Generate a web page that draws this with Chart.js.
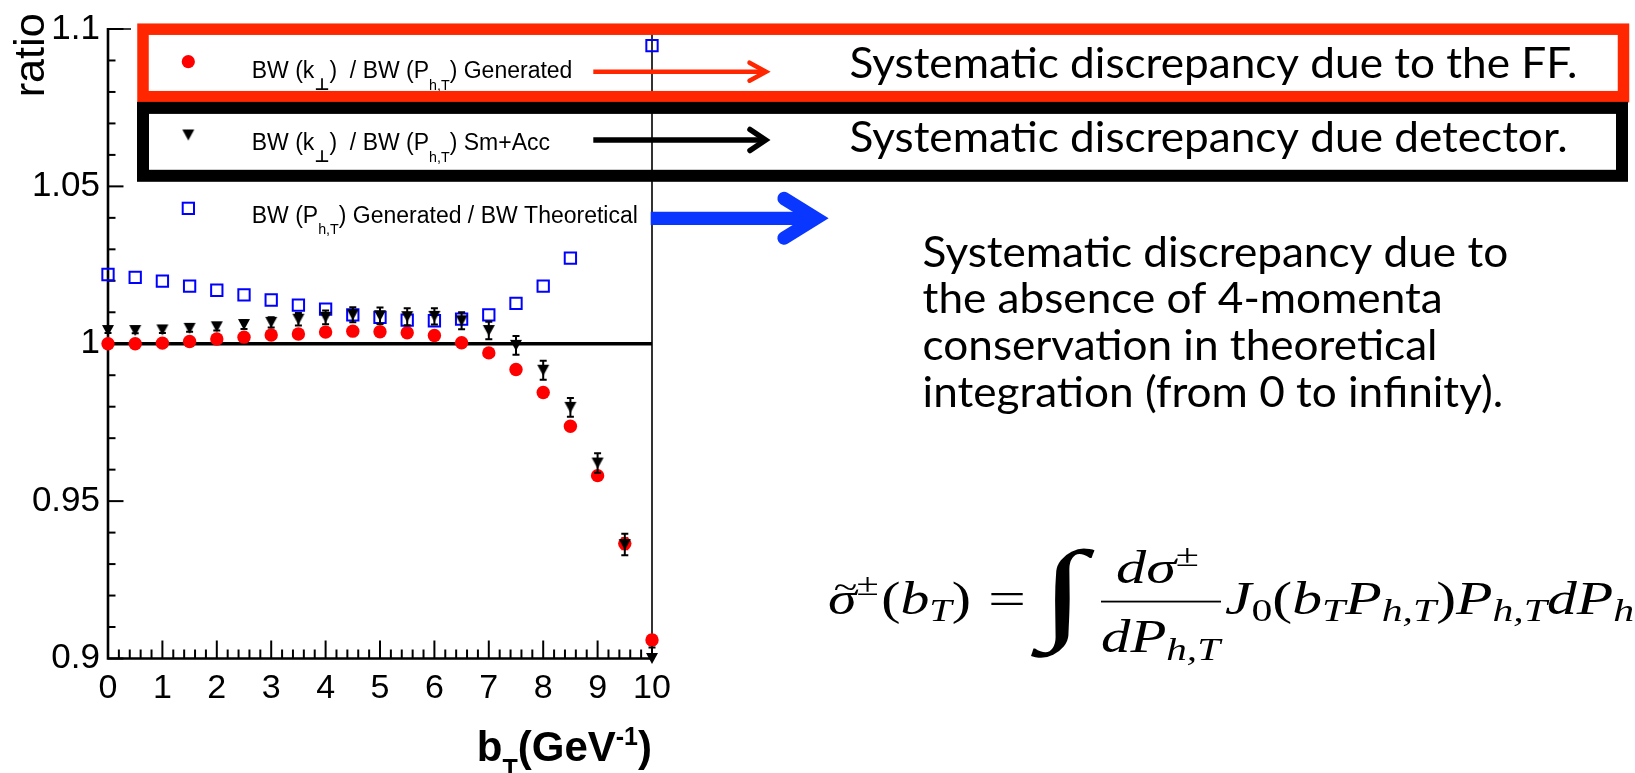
<!DOCTYPE html>
<html lang="en">
<head>
<meta charset="utf-8">
<title>BW ratio vs b_T</title>
<script src="https://cdn.jsdelivr.net/npm/chart.js@4.4.1/dist/chart.umd.min.js"></script>
<style>
  html, body { margin: 0; padding: 0; background: #ffffff; }
  canvas { display: block; }
</style>
</head>
<body>
<canvas id="ratioChart" width="1635" height="773"></canvas>
<script>
// ---------- data ----------
const bT = [0, 0.5, 1, 1.5, 2, 2.5, 3, 3.5, 4, 4.5, 5, 5.5, 6, 6.5, 7, 7.5, 8, 8.5, 9, 9.5, 10];

// BW(k_perp) / BW(P_h,T), generated level
const ratioGenerated    = [1.0000, 1.0000, 1.0002, 1.0007, 1.0015, 1.0021, 1.0028, 1.0031, 1.0037, 1.0040, 1.0038, 1.0035, 1.0026, 1.0003, 0.9971, 0.9918, 0.9845, 0.9738, 0.9581, 0.9365, 0.9059];
const ratioGeneratedErr = [0.0002, 0.0002, 0.0003, 0.0003, 0.0004, 0.0004, 0.0005, 0.0005, 0.0006, 0.0006, 0.0007, 0.0007, 0.0008, 0.0008, 0.0009, 0.0010, 0.0011, 0.0012, 0.0014, 0.0018, 0.0016];

// BW(k_perp) / BW(P_h,T), smeared + acceptance
const ratioSmAcc    = [1.0042, 1.0042, 1.0044, 1.0049, 1.0054, 1.0061, 1.0068, 1.0078, 1.0084, 1.0092, 1.0089, 1.0086, 1.0087, 1.0073, 1.0042, 0.9995, 0.9916, 0.9798, 0.9621, 0.9362, 0.9000];
const ratioSmAccErr = [0.0008, 0.0009, 0.0010, 0.0011, 0.0012, 0.0014, 0.0016, 0.0020, 0.0022, 0.0024, 0.0026, 0.0027, 0.0026, 0.0027, 0.0028, 0.0030, 0.0030, 0.0030, 0.0031, 0.0034, 0.0035];

// BW(P_h,T) generated / BW theoretical (bins 9 and 9.5 lie under the legend)
const ratioTheory = [1.0220, 1.0211, 1.0199, 1.0183, 1.0170, 1.0155, 1.0139, 1.0123, 1.0110, 1.0092, 1.0084, 1.0075, 1.0073, 1.0078, 1.0092, 1.0128, 1.0183, 1.0272, null, null, 1.0947];

// reference line at ratio = 1
const unityX = [0, 10];
const unityY = [1, 1];

// axes
const xTickValues = [0, 1, 2, 3, 4, 5, 6, 7, 8, 9, 10];
const xTickLabels = ['0', '1', '2', '3', '4', '5', '6', '7', '8', '9', '10'];
const yTickValues = [0.9, 0.95, 1, 1.05, 1.1];
const yTickLabels = ['0.9', '0.95', '1', '1.05', '1.1'];
const xMinorStep = 0.2;
const yMinorStep = 0.01;

// ---------- styling helpers ----------
const FONT_SANS = '"Liberation Sans", Arial, Helvetica, sans-serif';
const FONT_NOTE = 'Lato, "Open Sans", sans-serif';
const FONT_MATH = '"Liberation Serif", "DejaVu Serif", serif';
const RED_BOX = '#ff2600';

function downTriangle(w, h, color) {
  const c = document.createElement('canvas');
  c.width = w + 2; c.height = h + 2;
  const g = c.getContext('2d');
  g.fillStyle = color;
  g.beginPath();
  g.moveTo(1, 1); g.lineTo(w + 1, 1); g.lineTo(1 + w / 2, h + 1);
  g.closePath(); g.fill();
  return c;
}
const triMarker = downTriangle(12, 11, '#000000');

function points(xs, ys) { return xs.map((x, i) => ({ x, y: ys[i] })); }

// ---------- plugins ----------
const whiteBackground = {
  id: 'whiteBackground',
  beforeDraw(chart) {
    const { ctx, width, height } = chart;
    ctx.save(); ctx.fillStyle = '#ffffff'; ctx.fillRect(0, 0, width, height); ctx.restore();
  }
};

// ROOT-style frame with inward ticks
const rootFrame = {
  id: 'rootFrame',
  beforeDatasetsDraw(chart) {
    const { ctx, chartArea: a, scales: { x, y } } = chart;
    ctx.save();
    ctx.strokeStyle = '#000';
    ctx.lineWidth = 2;
    const nx = Math.round((x.max - x.min) / xMinorStep);
    for (let k = 0; k <= nx; k++) {
      const v = x.min + k * xMinorStep;
      const major = xTickValues.some(t => Math.abs(t - v) < 1e-9);
      const px = x.getPixelForValue(v);
      ctx.beginPath(); ctx.moveTo(px, a.bottom); ctx.lineTo(px, a.bottom - (major ? 18 : 9)); ctx.stroke();
    }
    const ny = Math.round((y.max - y.min) / yMinorStep);
    for (let k = 0; k <= ny; k++) {
      const v = y.min + k * yMinorStep;
      const major = yTickValues.some(t => Math.abs(t - v) < 1e-9);
      const py = y.getPixelForValue(v);
      ctx.beginPath(); ctx.moveTo(a.left, py); ctx.lineTo(a.left + (major ? 15.5 : 7.5), py); ctx.stroke();
    }
    ctx.lineWidth = 1.6;
    ctx.beginPath(); ctx.moveTo(a.left, a.top); ctx.lineTo(a.right, a.top); ctx.lineTo(a.right, a.bottom); ctx.stroke();
    ctx.lineWidth = 2.6;
    ctx.beginPath(); ctx.moveTo(a.left, a.top - 1); ctx.lineTo(a.left, a.bottom); ctx.lineTo(a.right, a.bottom); ctx.stroke();
    ctx.restore();
  }
};

// vertical error bars with small caps, drawn just before each dataset's markers
const errorBars = {
  id: 'errorBars',
  beforeDatasetDraw(chart, args) {
    const ds = chart.data.datasets[args.index];
    if (!ds.errors) return;
    const { ctx, chartArea: a, scales: { x, y } } = chart;
    ctx.save();
    ctx.beginPath(); ctx.rect(a.left - 10, a.top, a.right - a.left + 20, a.bottom - a.top); ctx.clip();
    ctx.strokeStyle = ds.errorColor; ctx.lineWidth = 2;
    ds.data.forEach((p, i) => {
      const e = ds.errors[i];
      if (p.y == null || !e) return;
      const px = x.getPixelForValue(p.x);
      const y1 = y.getPixelForValue(p.y + e), y2 = y.getPixelForValue(p.y - e);
      ctx.beginPath();
      ctx.moveTo(px, y1); ctx.lineTo(px, y2);
      ctx.moveTo(px - 3.5, y1); ctx.lineTo(px + 3.5, y1);
      ctx.moveTo(px - 3.5, y2); ctx.lineTo(px + 3.5, y2);
      ctx.stroke();
    });
    ctx.restore();
  }
};

function richText(ctx, x, base, parts, size) {
  for (const p of parts) {
    const s = p.sub ? size * 0.62 : size;
    ctx.font = p.perp ? 'bold ' + (size * 0.72) + 'px "DejaVu Sans", sans-serif' : s + 'px ' + FONT_SANS;
    ctx.fillText(p.t, x, base + (p.sub ? size * 0.5 : 0));
    x += ctx.measureText(p.t).width;
  }
  return x;
}

const rootLegend = {
  id: 'rootLegend',
  afterDatasetsDraw(chart) {
    const { ctx } = chart;
    ctx.save();
    ctx.fillStyle = '#ffffff';
    ctx.fillRect(131, 23, 513, 213);
    // markers
    ctx.fillStyle = '#ff0000';
    ctx.beginPath(); ctx.arc(188.3, 61.7, 6.6, 0, Math.PI * 2); ctx.fill();
    ctx.drawImage(triMarker, 188.3 - 7, 135 - 6.5);
    ctx.strokeStyle = '#0000ff'; ctx.lineWidth = 2;
    ctx.strokeRect(182.7, 202.7, 11.3, 11.3);
    // labels
    ctx.fillStyle = '#000'; ctx.textAlign = 'left'; ctx.textBaseline = 'alphabetic';
    const fs = 23;
    richText(ctx, 251.7, 78.3, [{ t: 'BW (k' }, { t: '\u22A5', sub: true, perp: true }, { t: ')  / BW (P' }, { t: 'h,T', sub: true }, { t: ') Generated' }], fs);
    richText(ctx, 251.7, 150, [{ t: 'BW (k' }, { t: '\u22A5', sub: true, perp: true }, { t: ')  / BW (P' }, { t: 'h,T', sub: true }, { t: ') Sm+Acc' }], fs);
    richText(ctx, 251.7, 222.7, [{ t: 'BW (P' }, { t: 'h,T', sub: true }, { t: ') Generated / BW Theoretical' }], fs);
    ctx.restore();
  }
};

function arrow(ctx, x1, xv, y, color, w, armX, armY) {
  ctx.strokeStyle = color; ctx.lineWidth = w;
  ctx.lineCap = 'butt';
  ctx.beginPath(); ctx.moveTo(x1, y); ctx.lineTo(xv, y); ctx.stroke();
  ctx.lineCap = 'round'; ctx.lineJoin = 'miter'; ctx.miterLimit = 10;
  ctx.beginPath(); ctx.moveTo(armX, y - armY); ctx.lineTo(xv, y); ctx.lineTo(armX, y + armY); ctx.stroke();
}

// Fourier-Bessel transform of the cross section, set in italic serif.
// Each piece is a run list laid out left to right and stretched to its slot.
function drawFormula(ctx) {
  const F = 46, B = 614;
  const it = s => 'italic ' + s + 'px ' + FONT_MATH;
  const rm = s => s + 'px ' + FONT_MATH;
  const SUB = F * 0.16, SUP = -F * 0.42;

  const measure = runs => {
    let w = 0;
    for (const r of runs) { ctx.font = r.f; r.w = ctx.measureText(r.t).width; r.at = w; w += r.w + (r.gap || 0); }
    return w;
  };
  const draw = (runs, x0, base, sx) => {
    ctx.save(); ctx.translate(x0, 0); ctx.scale(sx, 1);
    for (const r of runs) { ctx.font = r.f; ctx.fillText(r.t, r.at, base + (r.dy || 0)); }
    ctx.restore();
  };
  const fit = (runs, x0, width, base) => { const w = measure(runs); draw(runs, x0, base, width / w); return width / w; };

  ctx.save();
  ctx.fillStyle = '#000'; ctx.textAlign = 'left'; ctx.textBaseline = 'alphabetic';

  // sigma-tilde^pm (b_T)
  const lhs = [
    { t: '\u03C3', f: it(F) }, { t: '\u00B1', f: rm(F * 0.7), dy: SUP, gap: 2 },
    { t: '(', f: rm(F) }, { t: 'b', f: it(F) }, { t: 'T', f: it(F * 0.7), dy: SUB }, { t: ')', f: rm(F) }
  ];
  const sxl = fit(lhs, 828, 143, B);
  ctx.save(); ctx.translate(828, 0); ctx.scale(sxl, 1);
  ctx.font = rm(F * 0.75); ctx.fillText('~', lhs[0].w * 0.2, B - F * 0.34);
  ctx.restore();

  fit([{ t: '=', f: rm(F) }], 988, 38, B);
  fit([{ t: '\u222B', f: rm(F * 2.42) }], 1040, 46, B + F * 0.3);

  // fraction  d sigma^pm / d P_{h,T}
  ctx.fillRect(1101, B - F * 0.27 - 0.9, 120, 1.8);
  fit([{ t: 'd\u03C3', f: it(F) }, { t: '\u00B1', f: rm(F * 0.7), dy: -F * 0.37 }], 1116, 83, B - F * 0.68);
  fit([{ t: 'dP', f: it(F) }, { t: 'h,T', f: it(F * 0.7), dy: F * 0.18 }], 1101, 119, B + F * 0.82);

  // J_0(b_T P_{h,T}) P_{h,T} dP_{h,T}
  const rhs = [
    { t: 'J', f: it(F) }, { t: '0', f: rm(F * 0.7), dy: SUB },
    { t: '(', f: rm(F) }, { t: 'b', f: it(F) }, { t: 'T', f: it(F * 0.7), dy: SUB },
    { t: 'P', f: it(F) }, { t: 'h,T', f: it(F * 0.7), dy: SUB }, { t: ')', f: rm(F) },
    { t: 'P', f: it(F) }, { t: 'h,T', f: it(F * 0.7), dy: SUB },
    { t: 'd', f: it(F) }, { t: 'P', f: it(F) }, { t: 'h,T', f: it(F * 0.7), dy: SUB }
  ];
  measure(rhs);
  const sxr = (1547 - 1225) / rhs[10].at;
  draw(rhs, 1225, B, sxr);
  ctx.restore();
}

const slideNotes = {
  id: 'slideNotes',
  afterDraw(chart) {
    const { ctx, chartArea: a } = chart;
    ctx.save();
    // highlight boxes around the first two legend rows
    ctx.lineJoin = 'miter';
    ctx.strokeStyle = RED_BOX; ctx.lineWidth = 11.5;
    ctx.strokeRect(143, 29.2, 1623.5 - 143, 96.7 - 29.2);
    ctx.strokeStyle = '#000'; ctx.lineWidth = 12;
    ctx.strokeRect(143, 107.9, 1622 - 143, 175.8 - 107.9);

    arrow(ctx, 593.3, 766, 71.7, RED_BOX, 4.5, 749.5, 9);
    arrow(ctx, 593.3, 765.6, 140, '#000', 5.5, 750, 10.5);
    arrow(ctx, 650.7, 816, 218.3, '#0a37ff', 13.3, 784, 19.8);

    // notes
    ctx.fillStyle = '#000'; ctx.textAlign = 'left'; ctx.textBaseline = 'alphabetic';
    ctx.font = '42px ' + FONT_NOTE;
    const row1 = 'Systematic discrepancy due to the FF.';
    const sx = 728 / ctx.measureText(row1).width;
    const note = (t, x, y) => { ctx.save(); ctx.translate(x, y); ctx.scale(sx, 1); ctx.fillText(t, 0, 0); ctx.restore(); };
    note(row1, 849.4, 78.3);
    note('Systematic discrepancy due detector.', 849.4, 151.7);
    const para = ['Systematic discrepancy due to', 'the absence of 4-momenta', 'conservation in theoretical', 'integration (from 0 to infinity).'];
    para.forEach((t, i) => note(t, 922.6, 266.5 + i * 46.7));

    drawFormula(ctx);

    // axis titles
    ctx.fillStyle = '#000';
    ctx.save();
    ctx.translate(44, 13.3); ctx.rotate(-Math.PI / 2);
    ctx.font = '42px ' + FONT_SANS; ctx.textAlign = 'right';
    const wr = ctx.measureText('ratio').width;
    ctx.scale(84 / wr, 1);
    ctx.fillText('ratio', 0, 0);
    ctx.restore();

    const tParts = [{ t: 'b', s: 42, dy: 0 }, { t: 'T', s: 25, dy: 16 }, { t: '(GeV', s: 42, dy: 0 }, { t: '-1', s: 25, dy: -16 }, { t: ')', s: 42, dy: 0 }];
    let tw = 0;
    tParts.forEach(p => { ctx.font = 'bold ' + p.s + 'px ' + FONT_SANS; p.w = ctx.measureText(p.t).width; tw += p.w; });
    let tx = a.right - tw;
    tParts.forEach(p => { ctx.font = 'bold ' + p.s + 'px ' + FONT_SANS; ctx.fillText(p.t, tx, 761 + p.dy); tx += p.w; });
    ctx.restore();
  }
};

// ---------- chart ----------
new Chart(document.getElementById('ratioChart'), {
  type: 'scatter',
  data: {
    datasets: [
      { type: 'line', label: 'ratio = 1', data: points(unityX, unityY), borderColor: '#000', borderWidth: 3.5,
        pointRadius: 0, order: 4, clip: false },
      { label: 'BW (k\u22A5) / BW (Ph,T) Generated', data: points(bT, ratioGenerated), errors: ratioGeneratedErr,
        errorColor: '#ff0000', pointStyle: 'circle', pointRadius: 6.7, backgroundColor: '#ff0000',
        borderWidth: 0, order: 3, clip: false },
      { label: 'BW (Ph,T) Generated / BW Theoretical', data: points(bT, ratioTheory), pointStyle: 'rect',
        pointRadius: 8, borderColor: '#0000ff', backgroundColor: 'rgba(0,0,0,0)', borderWidth: 2,
        order: 2, clip: false },
      { label: 'BW (k\u22A5) / BW (Ph,T) Sm+Acc', data: points(bT, ratioSmAcc), errors: ratioSmAccErr,
        errorColor: '#000', pointStyle: triMarker, order: 1, clip: false }
    ]
  },
  options: {
    responsive: false,
    devicePixelRatio: 1,
    animation: false,
    events: [],
    layout: { padding: { left: 0, top: 21.5, right: 983, bottom: 0 } },
    plugins: { legend: { display: false }, tooltip: { enabled: false } },
    scales: {
      x: {
        type: 'linear', min: 0, max: 10,
        afterBuildTicks: s => { s.ticks = xTickValues.map(v => ({ value: v })); },
        afterFit: s => { s.height = 114.5; },
        grid: { display: false, drawTicks: false },
        border: { display: false },
        ticks: { autoSkip: false, maxRotation: 0, padding: 10, color: '#000',
                 font: { family: FONT_SANS, size: 34 },
                 callback: (v, i) => xTickLabels[i] }
      },
      y: {
        type: 'linear', min: 0.9, max: 1.1,
        afterBuildTicks: s => { s.ticks = yTickValues.map(v => ({ value: v })); },
        afterFit: s => { s.width = 108; },
        grid: { display: false, drawTicks: false },
        border: { display: false },
        ticks: { autoSkip: false, padding: 8, color: '#000',
                 font: { family: FONT_SANS, size: 35 },
                 callback: (v, i) => yTickLabels[i] }
      }
    }
  },
  plugins: [whiteBackground, rootFrame, errorBars, rootLegend, slideNotes]
});
</script>
</body>
</html>
